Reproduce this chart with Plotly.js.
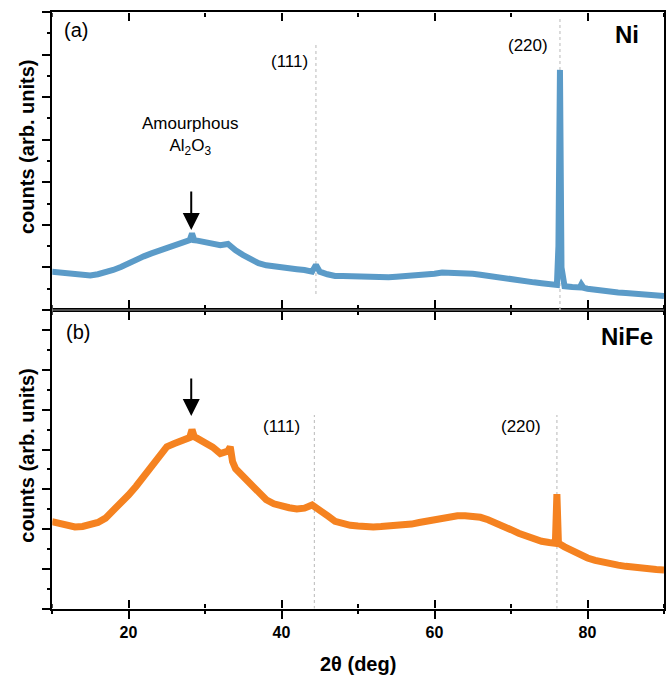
<!DOCTYPE html>
<html>
<head>
<meta charset="utf-8">
<script src="https://cdn.plot.ly/plotly-3.0.1.min.js"></script>
<style>html,body{margin:0;padding:0;background:#fff;}</style>
</head>
<body>
<div id="chart" style="width:670px;height:675px;"></div>
<script>
// ---- Data ----
const niAngle = [10,11,12,13,14,15,16,17,18,19,20,21,22,23,24,25,26,27,28,28.3,28.6,29,30,31,32,33,33.5,34,35,36,37,38,39,40,41,42,43,44,44.5,45,46,47,48,49,50,51,52,53,54,55,56,57,58,59,60,61,62,63,64,65,66,67,68,69,70,71,72,73,74,75,76,76.2,76.4,76.6,76.8,77,78,79,79.2,79.5,80,81,82,83,84,85,86,87,88,89,90];
const niCounts = [900,880,860,820,800,810,840,880,940,1010,1100,1180,1260,1330,1390,1460,1530,1580,1640,1800,1640,1630,1600,1560,1520,1550,1460,1400,1290,1190,1100,1050,1020,1000,990,960,940,900,1060,900,840,800,800,790,790,780,780,770,770,780,790,800,820,840,850,880,880,870,860,850,830,800,770,740,710,690,670,650,630,610,590,1500,5640,1000,600,560,540,530,600,520,500,470,440,420,410,400,380,370,360,350,330];

const nifeAngle = [10,11,12,13,14,15,16,17,18,19,20,21,22,23,24,25,26,27,28,28.3,28.6,29,30,31,32,33,33.3,33.6,34,35,36,37,38,39,40,41,42,43,44,45,46,47,48,49,50,51,52,53,54,55,56,57,58,59,60,61,62,63,64,65,66,67,68,69,70,71,72,73,74,75,75.8,76.0,76.2,77,78,79,80,81,82,83,84,85,86,87,88,89,90];
const nifeCounts = [2190,2150,2090,2060,2070,2100,2170,2280,2460,2660,2860,3080,3340,3600,3860,4070,4150,4220,4300,4500,4320,4280,4180,4060,3900,3960,4070,3700,3520,3320,3110,2900,2740,2640,2580,2540,2510,2530,2610,2500,2340,2200,2140,2100,2080,2060,2060,2070,2080,2100,2110,2130,2170,2210,2250,2290,2330,2340,2340,2330,2300,2240,2170,2080,1990,1900,1820,1740,1700,1670,1650,2880,1650,1560,1450,1360,1280,1220,1170,1140,1100,1070,1040,1020,1000,990,980];

const xMajorStep = 20;
const yMajorStep = 1000;
const niRange = [0, 7000];
const nifeRange = [0, 7500];
const niPeaks = [44.5, 76.4];
const nifePeaks = [44.3, 76.0];
const peakLabels = ['(111)', '(220)'];
const sampleLabels = ['Ni', 'NiFe'];
const panelLabels = ['(a)', '(b)'];
const amorphLabel = 'Amourphous<br>Al<sub>2</sub>O<sub>3</sub>';
const amorphPos = 28.2;
const xTitle = '2θ (deg)';
const yTitle = 'counts (arb. units)';

// ---- Styling ----
const FONT = 'Liberation Sans, Arial, Helvetica, sans-serif';
const blue = '#5b9bc8';
const orange = '#f58220';
const split = 0.5008;
const eps = 0.0005;

const traces = [
  {x: niAngle, y: niCounts, xaxis: 'x2', yaxis: 'y2', type: 'scatter', mode: 'lines',
   line: {color: blue, width: 6}, hoverinfo: 'skip'},
  {x: nifeAngle, y: nifeCounts, xaxis: 'x', yaxis: 'y', type: 'scatter', mode: 'lines',
   line: {color: orange, width: 7}, hoverinfo: 'skip'}
];

const layout = {
  width: 670, height: 675,
  margin: {l: 52, r: 6, t: 12, b: 66, pad: 0},
  showlegend: false,
  font: {family: FONT, color: '#000'},
  xaxis: {anchor: 'y', range: [10, 90], dtick: xMajorStep, ticks: 'outside', ticklen: 8,
    tickwidth: 2, tickcolor: '#000', showline: true, linecolor: '#000', linewidth: 2,
    mirror: 'ticks', showgrid: false, zeroline: false, showticklabels: true,
    tickfont: {family: FONT, size: 16, color: '#000', weight: 'bold'}},
  xaxis2: {anchor: 'y2', range: [10, 90], dtick: xMajorStep, ticks: 'outside', ticklen: 8,
    tickwidth: 2, tickcolor: '#000', showline: true, linecolor: '#000', linewidth: 2,
    mirror: true, showgrid: false, zeroline: false, showticklabels: false},
  yaxis: {anchor: 'x', domain: [0, split], range: nifeRange, dtick: yMajorStep,
    ticks: 'outside', ticklen: 8, tickwidth: 2, tickcolor: '#000',
    showline: true, linecolor: '#000', linewidth: 2, mirror: true,
    showgrid: false, zeroline: false, showticklabels: false},
  yaxis2: {anchor: 'x2', domain: [split, 1], range: niRange, dtick: yMajorStep,
    ticks: 'outside', ticklen: 8, tickwidth: 2, tickcolor: '#000',
    showline: true, linecolor: '#000', linewidth: 2, mirror: true,
    showgrid: false, zeroline: false, showticklabels: false}
};

// extra x tick rows, each on its own very thin subplot lying on a frame edge
const xRows = [
  {dom: [0, eps], side: 'bottom', major: false},
  {dom: [0, eps], side: 'top', major: true},
  {dom: [0, eps], side: 'top', major: false},
  {dom: [split - eps, split], side: 'top', major: false},
  {dom: [split, split + eps], side: 'bottom', major: false},
  {dom: [1 - eps, 1], side: 'bottom', major: true},
  {dom: [1 - eps, 1], side: 'bottom', major: false}
];
let n = 3;
xRows.forEach(function (row) {
  layout['xaxis' + n] = {
    anchor: 'y' + n, range: [10, 90], side: row.side,
    tick0: row.major ? 0 : 10, dtick: xMajorStep,
    ticks: 'outside', ticklen: row.major ? 8 : 4, tickwidth: 2, tickcolor: '#000',
    showline: false, showgrid: false, zeroline: false, showticklabels: false
  };
  layout['yaxis' + n] = {
    anchor: 'x' + n, domain: row.dom, range: [0, 1], showline: false, ticks: '',
    showgrid: false, zeroline: false, showticklabels: false
  };
  traces.push({x: [10, 90], y: [null, null], xaxis: 'x' + n, yaxis: 'y' + n,
    type: 'scatter', mode: 'lines', hoverinfo: 'skip', showlegend: false});
  n++;
});

// minor y ticks, on thin subplots lying on the left edge
[{dom: [0, split], range: nifeRange}, {dom: [split, 1], range: niRange}].forEach(function (row) {
  layout['xaxis' + n] = {
    anchor: 'y' + n, domain: [0, eps], range: [0, 1], showline: false, ticks: '',
    showgrid: false, zeroline: false, showticklabels: false
  };
  layout['yaxis' + n] = {
    anchor: 'x' + n, domain: row.dom, range: row.range, side: 'left',
    tick0: yMajorStep / 2, dtick: yMajorStep,
    ticks: 'outside', ticklen: 4, tickwidth: 2, tickcolor: '#000',
    showline: false, showgrid: false, zeroline: false, showticklabels: false
  };
  traces.push({x: [null, null], y: row.range, xaxis: 'x' + n, yaxis: 'y' + n,
    type: 'scatter', mode: 'lines', hoverinfo: 'skip', showlegend: false});
  n++;
});

const dot = {color: '#c4c4c4', width: 1.2, dash: 'dot'};
layout.shapes = [
  {type: 'line', xref: 'x2', yref: 'y2', x0: niPeaks[0], x1: niPeaks[0], y0: 376, y1: 6225, line: dot, layer: 'below'},
  {type: 'line', xref: 'x2', yref: 'y2', x0: niPeaks[1], x1: niPeaks[1], y0: 0, y1: 6860, line: dot, layer: 'below'},
  {type: 'line', xref: 'x', yref: 'y', x0: nifePeaks[0], x1: nifePeaks[0], y0: 0, y1: 4866, line: dot, layer: 'below'},
  {type: 'line', xref: 'x', yref: 'y', x0: nifePeaks[1], x1: nifePeaks[1], y0: 0, y1: 4866, line: dot, layer: 'below'}
];

function txt(text, x, y, size, bold, extra) {
  return Object.assign({text: text, xref: 'paper', yref: 'paper', x: x, y: y,
    xanchor: 'center', yanchor: 'middle', showarrow: false,
    font: {family: FONT, size: size, color: '#000', weight: bold ? 'bold' : 'normal'}}, extra || {});
}

layout.annotations = [
  txt(panelLabels[0], 0.0389, 0.9698, 20, false),
  txt(panelLabels[1], 0.0417, 0.4645, 20, false),
  txt(sampleLabels[0], 0.9395, 0.9615, 24, true),
  txt(sampleLabels[1], 0.9395, 0.4561, 24, true),
  txt(peakLabels[0], 0.3873, 0.9168, 17, false),
  txt(peakLabels[1], 0.7770, 0.9447, 17, false),
  txt(peakLabels[0], 0.3758, 0.3054, 17, false),
  txt(peakLabels[1], 0.7663, 0.3054, 17, false),
  txt(amorphLabel, 0.2255, 0.7923, 17, false),
  txt(xTitle, 0.5, -0.0921, 20, true),
  txt(yTitle, -0.0408, 0.7739, 20, true, {textangle: -90}),
  txt(yTitle, -0.0408, 0.2568, 20, true, {textangle: -90}),
  {xref: 'x2', yref: 'y2', x: amorphPos, y: 1880, ax: 0, ay: -40, text: '', showarrow: true,
   arrowhead: 2, arrowsize: 1.7, arrowwidth: 2, arrowcolor: '#000', standoff: 0},
  {xref: 'x', yref: 'y', x: amorphPos, y: 4840, ax: 0, ay: -39, text: '', showarrow: true,
   arrowhead: 2, arrowsize: 1.7, arrowwidth: 2, arrowcolor: '#000', standoff: 0}
];

Plotly.newPlot('chart', traces, layout, {displayModeBar: false, staticPlot: true});
</script>
</body>
</html>
